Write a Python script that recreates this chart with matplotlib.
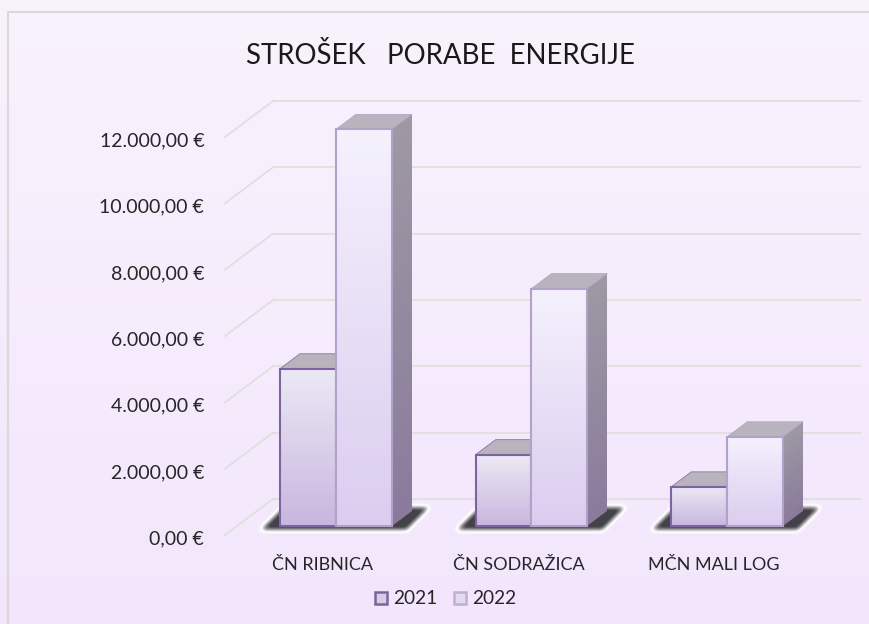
# plot.py - 3D looking clustered column chart, energy cost per plant

import matplotlib
matplotlib.use('Agg')
import matplotlib.pyplot as plt
import numpy as np
from matplotlib.patches import Patch, Polygon
from matplotlib.transforms import Affine2D, IdentityTransform
from matplotlib.colors import LinearSegmentedColormap

categories = ['ČN RIBNICA', 'ČN SODRAŽICA', 'MČN MALI LOG']
years = ['2021', '2022']
costs_2021 = [4740, 2150, 1180]
costs_2022 = [11960, 7160, 2690]
y_ticks = [0, 2000, 4000, 6000, 8000, 10000, 12000]
y_labels = ['0,00 €', '2.000,00 €', '4.000,00 €', '6.000,00 €',
            '8.000,00 €', '10.000,00 €', '12.000,00 €']
title = 'STROŠEK   PORABE  ENERGIJE'

plt.rcParams['font.family'] = ['Lato', 'DejaVu Sans']

W, H = 870, 624
fig = plt.figure(figsize=(W / 100, H / 100), dpi=100)

# background gradient, whole picture
bg = fig.add_axes([0, 0, 1, 1], zorder=0)
bg.axis('off')
bgmap = LinearSegmentedColormap.from_list('bg', ['#f9f3fd', '#f3e6fc'])
bg.imshow(np.linspace(0, 1, 256).reshape(-1, 1), cmap=bgmap, aspect='auto',
          extent=[0, 1, 0, 1], origin='upper')
bg.plot([8 / W, 8 / W, 1], [0, 1 - 12 / H, 1 - 12 / H], color='#d9d9d9', lw=1.6)
bg.set_xlim(0, 1)
bg.set_ylim(0, 1)

# axes = front plane of the 3D box
ax = fig.add_axes([225 / W, 1 - 535 / H, 587 / W, 398 / H], zorder=1)
ax.patch.set_alpha(0)
ax.set_xlim(0, 3)
ax.set_ylim(0, 12000)
for s in ax.spines.values():
    s.set_visible(False)
ax.set_yticks(y_ticks)
ax.set_yticklabels(y_labels, fontsize=14, color='#262626')
ax.set_xticks([0.5, 1.5, 2.5])
ax.set_xticklabels(categories, fontsize=13, color='#262626')
ax.tick_params(axis='y', length=0, pad=15)
ax.tick_params(axis='x', length=0, pad=16)
for lab in ax.get_yticklabels():
    lab.set_transform(lab.get_transform() + Affine2D().translate(0, -2.5))

# depth offsets, pixels
BOX_DX, BOX_DY = 48, 36     # whole box
BAR_DX, BAR_DY = 13, 9      # bars sit a bit behind front plane
DEP_DX, DEP_DY = 20, 15     # bar depth
back_tr = ax.transData + Affine2D().translate(BOX_DX, BOX_DY)
bar_tr = ax.transData + Affine2D().translate(BAR_DX, BAR_DY)
disp = IdentityTransform()

# gridlines, back plus the diagonal on the left wall
GRID = '#dddfd9'
for v in y_ticks:
    ax.plot([0, 3], [v, v], color=GRID, lw=1.2, transform=back_tr,
            clip_on=False, zorder=1)
    x0, y0 = ax.transData.transform((0, v))
    ax.plot([x0, x0 + BOX_DX], [y0, y0 + BOX_DY], color=GRID, lw=1.2,
            transform=disp, clip_on=False, zorder=1)


def face(x0, y0, ux, uy, h, c_bottom, c_top, z):
    # gradient parallelogram, unit square mapped to display pixels
    cmap = LinearSegmentedColormap.from_list('f', [c_bottom, c_top])
    tr = Affine2D(np.array([[ux, 0, x0], [uy, h, y0], [0, 0, 1]], dtype=float))
    ax.imshow(np.linspace(1, 0, 64).reshape(-1, 1), cmap=cmap, extent=[0, 1, 0, 1],
              aspect='auto', transform=tr, clip_on=False, zorder=z,
              interpolation='bilinear', vmin=0, vmax=1)


def shadow(xl, xr, y, z):
    # blurred shadow under one bar group, dark core with a white rim
    nx, ny = int(xr - xl) + 100, 50
    px0, py0 = xl - 50, y - 18
    gx, gy = np.meshgrid(np.arange(nx) + px0, np.arange(ny) + py0)
    t = (gy - (y - 4)) / 22.0
    mask = (t >= 0) & (t <= 1) & (gx >= xl - 19 + t * 22) & (gx <= xr + 15 + t * 22)
    m = mask.astype(float)
    kern = np.ones(5) / 5.0
    for _ in range(3):
        m = np.apply_along_axis(lambda r: np.convolve(r, kern, mode='same'), 0, m)
        m = np.apply_along_axis(lambda r: np.convolve(r, kern, mode='same'), 1, m)
    dark = np.clip((m - 0.22) / 0.7, 0, 1)[..., None]
    rgb = (1 - dark) * np.array([1.0, 1.0, 1.0]) + dark * np.array([0.27, 0.26, 0.29])
    alpha = np.clip(m * 5, 0, 1)[..., None]
    ax.imshow(np.dstack([rgb, alpha]), extent=[px0, px0 + nx, py0, py0 + ny],
              origin='lower', aspect='auto', transform=disp, clip_on=False,
              zorder=z, interpolation='bilinear')


WIDTH = 0.286
series = [
    (costs_2021, -WIDTH / 2, '#7d63a0', '#c8b7df', '#ece9f5'),
    (costs_2022, WIDTH / 2, '#b2a2ca', '#dbcdef', '#f4f1fd'),
]
centers = np.array([0.5, 1.5, 2.5])

# shadows go first
for c in centers:
    xa, ya = bar_tr.transform((c - WIDTH, 0))
    xb, yb = bar_tr.transform((c + WIDTH, 0))
    shadow(xa, xb, ya, 2)

# one category at a time so the later bars cover the earlier ones
z = 3
for i, c in enumerate(centers):
    for vals, off, edge, c_bot, c_top in series:
        v = vals[i]
        left = c + off - WIDTH / 2
        right = c + off + WIDTH / 2
        xl, yb = bar_tr.transform((left, 0))
        xr, yt = bar_tr.transform((right, v))
        # side and top faces
        face(xr, yb, DEP_DX, DEP_DY, yt - yb, '#8a7b9c', '#9e99a4', z)
        top = Polygon([(xl, yt), (xr, yt), (xr + DEP_DX, yt + DEP_DY),
                       (xl + DEP_DX, yt + DEP_DY)], closed=True, fc='#b8b3bc',
                      ec=edge, lw=0.5, transform=disp, clip_on=False, zorder=z + 0.1)
        ax.add_patch(top)
        # front face
        face(xl, yb, xr - xl, 0, yt - yb, c_bot, c_top, z + 0.2)
        ax.bar(c + off, v, WIDTH, fc='none', ec=edge, lw=1.5, transform=bar_tr,
               clip_on=False, zorder=z + 0.3)
        z += 1

ax.set_xlim(0, 3)
ax.set_ylim(0, 12000)
ax.set_aspect('auto')

fig.text(440.5 / W, 1 - 55 / H, title, fontsize=19.9, color='#1a1a1a',
         ha='center', va='center')

handles = [
    Patch(fc='#d6cde6', ec='#7d63a0', lw=1.8, label=years[0]),
    Patch(fc='#e2dbee', ec='#bdb0d0', lw=1.8, label=years[1]),
]
fig.legend(handles=handles, loc='center', bbox_to_anchor=(445.5 / W, 1 - 599 / H),
           ncol=2, frameon=False, fontsize=13.8, handlelength=0.62,
           handleheight=0.62, handletextpad=0.3, columnspacing=0.9,
           labelcolor='#262626')

fig.savefig('out.png', dpi=100)
